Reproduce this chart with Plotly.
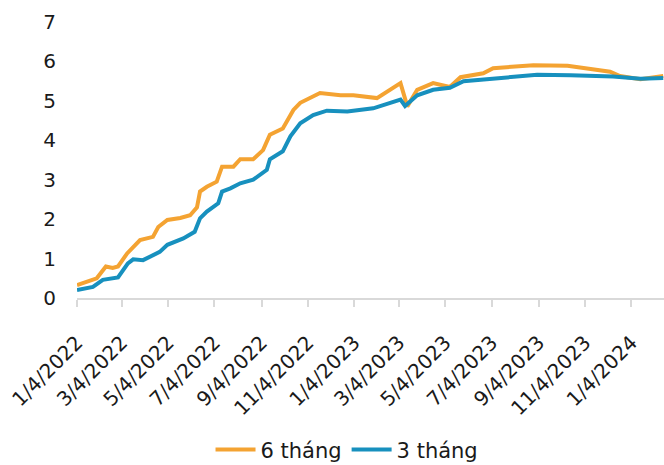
import plotly.graph_objects as go

dates_6m = ["2022-01-04", "2022-01-30", "2022-02-11", "2022-02-20", "2022-02-27", "2022-03-11",
            "2022-03-28", "2022-04-14", "2022-04-21", "2022-05-03", "2022-05-20", "2022-06-02",
            "2022-06-11", "2022-06-15", "2022-06-24", "2022-07-07", "2022-07-14", "2022-07-29",
            "2022-08-07", "2022-08-24", "2022-09-06", "2022-09-15", "2022-10-02", "2022-10-16",
            "2022-10-25", "2022-11-07", "2022-11-20", "2022-12-17", "2023-01-03", "2023-02-03",
            "2023-02-16", "2023-03-06", "2023-03-15", "2023-03-28", "2023-04-18", "2023-05-10",
            "2023-05-24", "2023-06-23", "2023-07-06", "2023-07-28", "2023-08-28", "2023-10-12",
            "2023-11-07", "2023-12-07", "2023-12-20", "2024-01-16", "2024-02-15"]
values_6m = [0.33, 0.50, 0.80, 0.76, 0.80, 1.13,
             1.47, 1.55, 1.80, 1.98, 2.03, 2.10,
             2.30, 2.70, 2.82, 2.95, 3.33, 3.33,
             3.52, 3.52, 3.75, 4.14, 4.30, 4.77,
             4.95, 5.07, 5.20, 5.14, 5.14, 5.07,
             5.24, 5.45, 4.86, 5.28, 5.45, 5.35,
             5.60, 5.70, 5.83, 5.85, 5.90, 5.89,
             5.83, 5.74, 5.63, 5.55, 5.63]

dates_3m = ["2022-01-04", "2022-01-25", "2022-02-07", "2022-02-16", "2022-02-27", "2022-03-12",
            "2022-03-19", "2022-04-01", "2022-04-23", "2022-05-03", "2022-05-24", "2022-06-08",
            "2022-06-15", "2022-06-24", "2022-07-09", "2022-07-14", "2022-07-25", "2022-08-07",
            "2022-08-24", "2022-09-11", "2022-09-15", "2022-10-02", "2022-10-12", "2022-10-25",
            "2022-11-11", "2022-11-29", "2022-12-17", "2022-12-26", "2023-01-29", "2023-03-06",
            "2023-03-12", "2023-03-28", "2023-04-18", "2023-05-10", "2023-05-28", "2023-06-28",
            "2023-07-28", "2023-09-02", "2023-10-16", "2023-12-11", "2024-01-16", "2024-02-15"]
values_3m = [0.20, 0.28, 0.46, 0.48, 0.52, 0.88,
             0.98, 0.96, 1.17, 1.35, 1.51, 1.68,
             2.02, 2.19, 2.40, 2.70, 2.78, 2.91,
             3.00, 3.25, 3.52, 3.72, 4.10, 4.43,
             4.64, 4.75, 4.73, 4.73, 4.81, 5.03,
             4.87, 5.14, 5.28, 5.33, 5.50, 5.55,
             5.62, 5.66, 5.65, 5.62, 5.56, 5.58]

y_ticks = [0, 1, 2, 3, 4, 5, 6, 7]

ORANGE = "#F4A332"
BLUE = "#1790BE"
FONT = "DejaVu Sans"

fig = go.Figure()
fig.add_trace(go.Scatter(x=dates_6m, y=values_6m, mode="lines", name="6 tháng",
                         line=dict(color=ORANGE, width=4)))
fig.add_trace(go.Scatter(x=dates_3m, y=values_3m, mode="lines", name="3 tháng",
                         line=dict(color=BLUE, width=4)))

fig.update_layout(
    width=664, height=465,
    margin=dict(l=77, r=0, t=22, b=167, autoexpand=False),
    paper_bgcolor="white", plot_bgcolor="white",
    font=dict(family=FONT, size=20, color="#1a1a1a"),
    showlegend=True,
    legend=dict(orientation="h", x=0.46, xanchor="center", y=-0.55, yanchor="middle",
                font=dict(size=21), itemwidth=40),
    xaxis=dict(
        type="date", range=["2022-01-04", "2024-02-16"], automargin=False,
        tick0="2022-01-04", dtick="M2", tickformat="%-m/%-d/%Y",
        tickangle=-45, showgrid=False, zeroline=False,
        showline=True, linecolor="#d9d9d9", linewidth=2,
        ticks="outside", ticklen=7, tickcolor="#d9d9d9", tickwidth=2,
        ticklabelstandoff=16,
    ),
    yaxis=dict(
        range=[0, 7], tickvals=y_ticks, showgrid=False, zeroline=False, automargin=False,
        showline=False, ticks="", ticklabelstandoff=20,
    ),
)

fig.write_html("out.html", config={"displayModeBar": False},
               post_script="document.body.style.margin='0px';document.body.style.overflow='hidden';")
